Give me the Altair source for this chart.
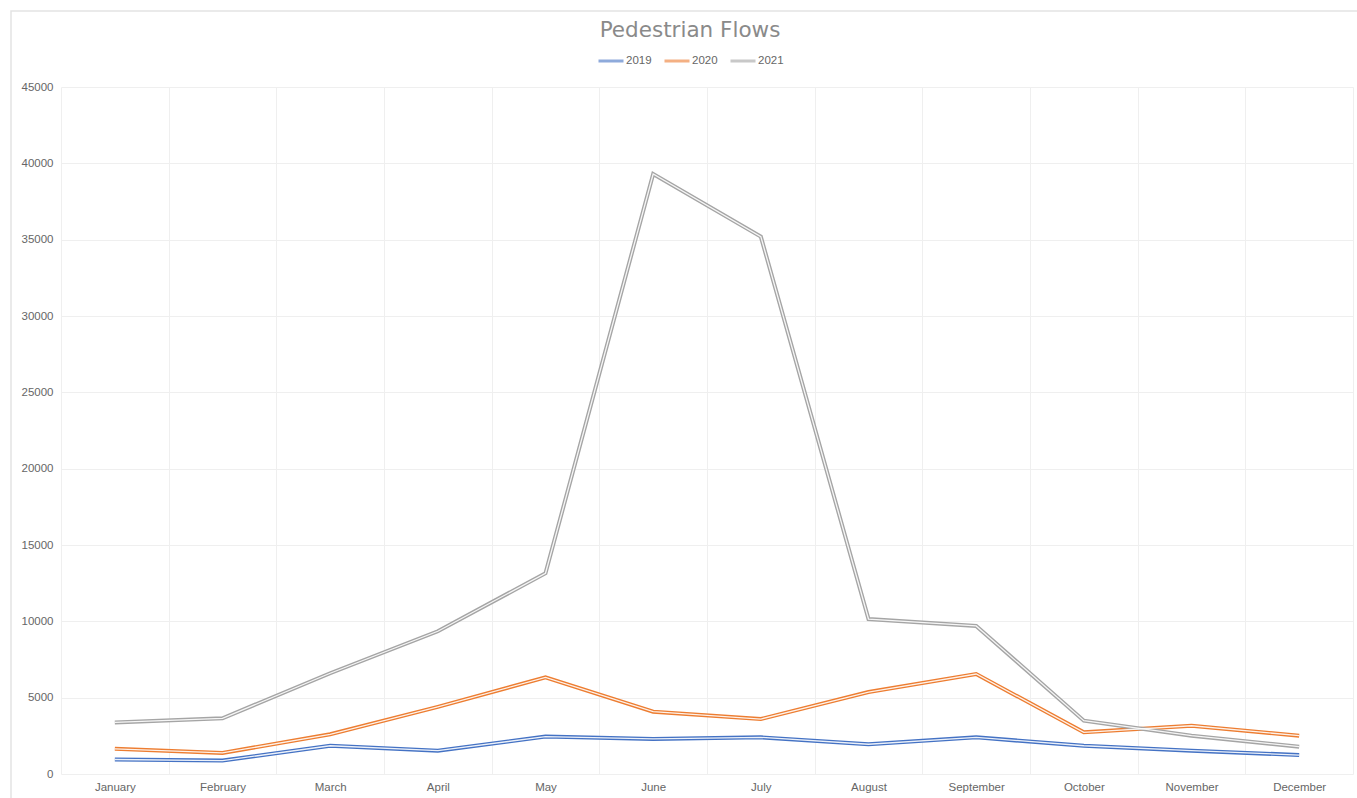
import altair as alt
import pandas as pd

months = ["January", "February", "March", "April", "May", "June", "July",
          "August", "September", "October", "November", "December"]
years = ["2019", "2020", "2021"]
flows_2019 = [950, 880, 1850, 1530, 2450, 2300, 2400, 1950, 2400, 1850, 1530, 1240]
flows_2020 = [1650, 1380, 2600, 4400, 6330, 4080, 3600, 5370, 6550, 2730, 3160, 2510]
flows_2021 = [3380, 3650, 6600, 9350, 13150, 39300, 35200, 10150, 9700, 3490, 2510, 1790]
colors = ["#4472C4", "#ED7D31", "#A5A5A5"]
y_ticks = [0, 5000, 10000, 15000, 20000, 25000, 30000, 35000, 40000, 45000]

rows = []
for yr, vals in zip(years, [flows_2019, flows_2020, flows_2021]):
    for m, v in zip(months, vals):
        rows.append({"Month": m, "Year": yr, "Flow": v})
df = pd.DataFrame(rows)

FONT = "Liberation Sans"

x_enc = alt.X("Month:N", sort=months, bandPosition=0.5,
              scale=alt.Scale(type="band", paddingInner=0, paddingOuter=0),
              axis=alt.Axis(title=None, labelAngle=0, ticks=False, domain=False,
                            grid=True, tickBand="extent", gridColor="#efefef",
                            labelFont=FONT, labelFontSize=11.5, labelColor="#666666",
                            labelPadding=7))
y_enc = alt.Y("Flow:Q", scale=alt.Scale(domain=[0, 45000], nice=False),
              axis=alt.Axis(title=None, values=y_ticks, ticks=False, domain=False,
                            format="d",
                            gridColor="#efefef", labelFont=FONT, labelFontSize=11.5,
                            labelColor="#666666", labelPadding=8))

frame = alt.Chart(pd.DataFrame({"a": [0]})).mark_rect(
    fill=None, stroke="#e3e3e3", strokeWidth=1.5
).encode(x=alt.value(-50), x2=alt.value(1400), y=alt.value(-76), y2=alt.value(800))

outer = alt.Chart(df).mark_line(strokeWidth=4, strokeJoin="miter").encode(
    x=x_enc, y=y_enc,
    color=alt.Color("Year:N", scale=alt.Scale(domain=years, range=colors),
                    legend=alt.Legend(title=None, orient="none", direction="horizontal",
                                      legendX=536, legendY=-40,
                                      symbolType="stroke", symbolSize=625,
                                      symbolStrokeWidth=3, symbolOpacity=0.6,
                                      labelFont=FONT, labelFontSize=11.5,
                                      labelColor="#666666", labelOffset=1,
                                      columnPadding=6)),
)
inner = alt.Chart(df).mark_line(strokeWidth=1.3, strokeJoin="miter", color="white",
                                opacity=0.9).encode(
    x=x_enc, y=y_enc, detail="Year:N"
)

chart = alt.layer(frame, outer, inner).properties(
    width=1292, height=687,
    autosize=alt.AutoSizeParams(type="none"),
    padding={"left": 61, "top": 87, "right": 4, "bottom": 24},
    title=alt.TitleParams("Pedestrian Flows", font="DejaVu Sans", fontSize=21.5,
                          fontWeight="normal", color="#8a8a8a", anchor="middle",
                          frame="group", baseline="alphabetic", offset=-48, dx=-17),
).configure_view(stroke=None)

chart.save("out.html", embed_options={"renderer": "svg", "actions": False})
